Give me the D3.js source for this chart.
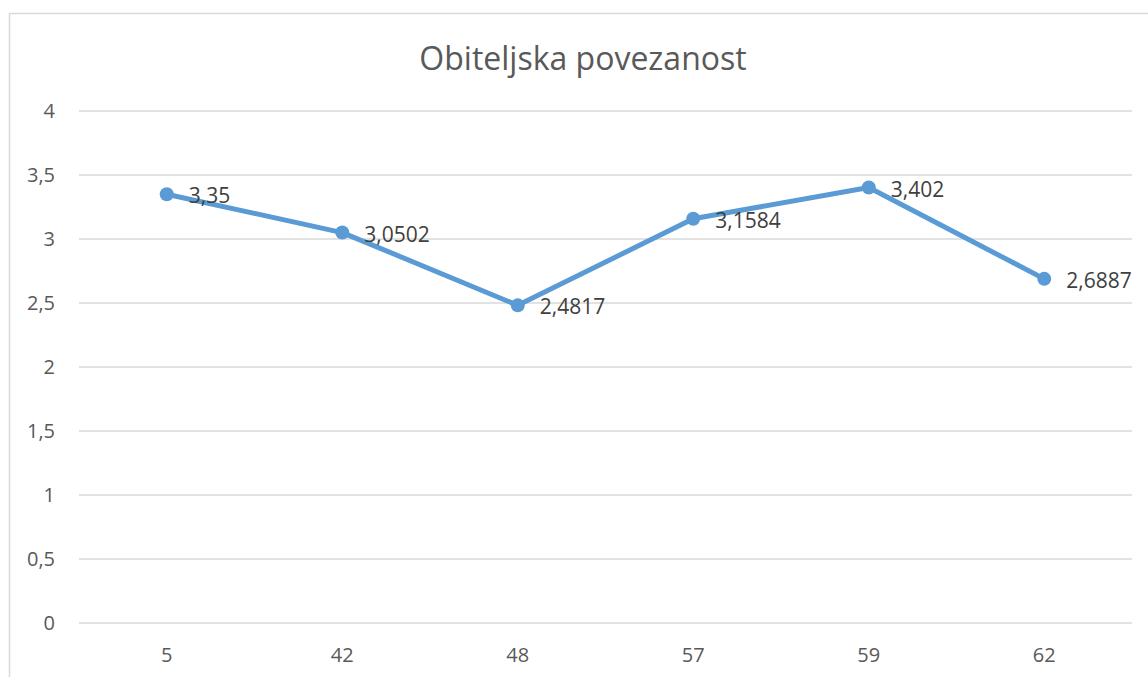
<!DOCTYPE html>
<html>
<head>
<meta charset="utf-8">
<script src="https://cdn.jsdelivr.net/npm/d3@7"></script>
<style>
  body { margin: 0; background: #fff; }
  text { font-family: "Open Sans", "Noto Sans", sans-serif; }
</style>
</head>
<body>
<script>
// data
const categories = ["5", "42", "48", "57", "59", "62"];
const values = [3.35, 3.0502, 2.4817, 3.1584, 3.402, 2.6887];
const labels = ["3,35", "3,0502", "2,4817", "3,1584", "3,402", "2,6887"];
const yTicks = [0, 0.5, 1, 1.5, 2, 2.5, 3, 3.5, 4];
const title = "Obiteljska povezanost";

const width = 1148, height = 677;
const margin = {top: 111, right: 16, bottom: 54, left: 79};

const svg = d3.select("body").append("svg")
    .attr("width", width)
    .attr("height", height);

// outer chart border (cropped on right and bottom)
svg.append("path")
    .attr("d", `M9.5,${height}V13.5H${width}`)
    .attr("fill", "none")
    .attr("stroke", "#d9d9d9")
    .attr("stroke-width", 1.5);

const x = d3.scaleBand()
    .domain(categories)
    .range([margin.left, width - margin.right]);

const y = d3.scaleLinear()
    .domain([0, 4])
    .range([height - margin.bottom, margin.top]);

// gridlines
svg.append("g")
    .selectAll("line")
    .data(yTicks)
    .join("line")
    .attr("x1", margin.left)
    .attr("x2", width - margin.right)
    .attr("y1", d => y(d))
    .attr("y2", d => y(d))
    .attr("stroke", "#d9d9d9")
    .attr("stroke-width", 1.5);

const fmt = d => String(d).replace(".", ",");

// y axis
const yAxis = g => g
    .attr("transform", `translate(${margin.left},0)`)
    .call(d3.axisLeft(y).tickValues(yTicks).tickFormat(fmt).tickSize(0).tickPadding(24))
    .call(g => g.select(".domain").remove())
    .call(g => g.selectAll("text").attr("fill", "#595959").style("font-size", "20px").style("font-family", "Open Sans, sans-serif"));

// x axis
const xAxis = g => g
    .attr("transform", `translate(0,${height - margin.bottom})`)
    .call(d3.axisBottom(x).tickSize(0).tickPadding(25))
    .call(g => g.select(".domain").remove())
    .call(g => g.selectAll("text").attr("fill", "#595959").style("font-size", "20px").style("font-family", "Open Sans, sans-serif"));

svg.append("g").call(yAxis);
svg.append("g").call(xAxis);

const cx = d => x(d) + x.bandwidth() / 2;

// line
svg.append("path")
    .datum(values)
    .attr("fill", "none")
    .attr("stroke", "#5b9bd5")
    .attr("stroke-width", 5)
    .attr("stroke-linejoin", "round")
    .attr("d", d3.line().x((d, i) => cx(categories[i])).y(d => y(d)));

// markers
svg.append("g")
    .selectAll("circle")
    .data(values)
    .join("circle")
    .attr("cx", (d, i) => cx(categories[i]))
    .attr("cy", d => y(d))
    .attr("r", 7)
    .attr("fill", "#5b9bd5");

// data labels
svg.append("g")
    .selectAll("text")
    .data(values)
    .join("text")
    .attr("x", (d, i) => cx(categories[i]) + 22)
    .attr("y", d => y(d) + 9)
    .attr("fill", "#404040")
    .style("font-size", "21px")
    .text((d, i) => labels[i]);

// title
svg.append("text")
    .attr("x", 583)
    .attr("y", 70)
    .attr("text-anchor", "middle")
    .attr("fill", "#595959")
    .style("font-size", "32px")
    .text(title);
</script>
</body>
</html>
